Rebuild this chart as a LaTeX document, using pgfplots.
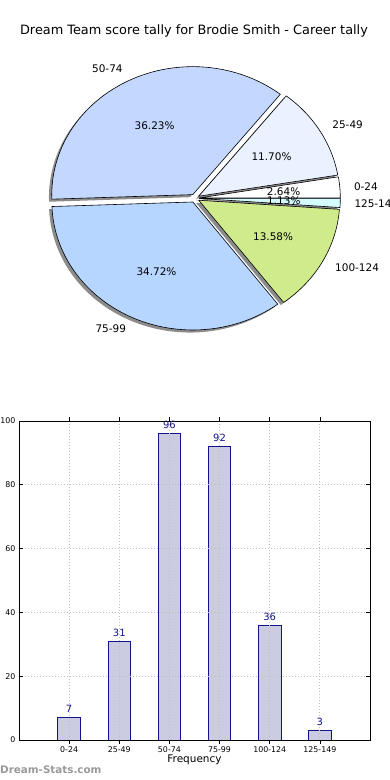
\documentclass[border=0pt]{standalone}
\usepackage{pgfplots}
\usepackage{pgfplotstable}
\pgfplotsset{compat=1.18}
\usepackage{fontspec}
\setmainfont{DejaVu Sans}

\definecolor{pie0}{HTML}{FFFFFF}
\definecolor{pie1}{HTML}{EAF1FF}
\definecolor{pie2}{HTML}{C4D8FF}
\definecolor{pie3}{HTML}{B6D5FF}
\definecolor{pie4}{HTML}{CFEB8B}
\definecolor{pie5}{HTML}{D4FBFF}
\definecolor{barfill}{HTML}{CBCBE2}
\definecolor{navy}{HTML}{12128C}
\definecolor{wm}{HTML}{999999}

\pgfplotstableread{
label count pct
0-24 7 2.64
25-49 31 11.70
50-74 96 36.23
75-99 92 34.72
100-124 36 13.58
125-149 3 1.13
}\scoretable

\begin{document}%
\begin{tikzpicture}
\useasboundingbox (0,0) rectangle (390bp,780bp);
% --- pie geometry computed from the counts ---
\def\total{0}
\pgfplotsforeachungrouped \k in {0,...,5}{%
  \pgfplotstablegetelem{\k}{count}\of\scoretable
  \pgfmathsetmacro\total{\total+\pgfplotsretval}%
}
\def\cum{0}
\def\explode{0.032}
\pgfplotsforeachungrouped \k in {0,...,5}{%
  \pgfplotstablegetelem{\k}{count}\of\scoretable
  \let\cnt\pgfplotsretval
  \pgfmathsetmacro\st{(\cum/\total)*360}%
  \pgfmathsetmacro\cum{\cum+\cnt}%
  \pgfmathsetmacro\en{(\cum/\total)*360}%
  \pgfmathsetmacro\md{(\st+\en)/2}%
  \expandafter\let\csname s\k\endcsname\st
  \expandafter\let\csname e\k\endcsname\en
  \pgfmathsetmacro\tmp{\explode*cos(\md)}\expandafter\let\csname ox\k\endcsname\tmp
  \pgfmathsetmacro\tmp{\explode*sin(\md)}\expandafter\let\csname oy\k\endcsname\tmp
  \pgfmathsetmacro\tmp{(1.1+\explode)*cos(\md)}\expandafter\let\csname lx\k\endcsname\tmp
  \pgfmathsetmacro\tmp{(1.1+\explode)*sin(\md)}\expandafter\let\csname ly\k\endcsname\tmp
  \pgfmathsetmacro\tmp{(0.6+\explode)*cos(\md)}\expandafter\let\csname px\k\endcsname\tmp
  \pgfmathsetmacro\tmp{(0.6+\explode)*sin(\md)}\expandafter\let\csname py\k\endcsname\tmp
  \pgfmathparse{cos(\md)}%
  \ifdim\pgfmathresult pt>0pt \expandafter\def\csname anc\k\endcsname{west}%
  \else \expandafter\def\csname anc\k\endcsname{east}\fi
  \pgfplotstablegetelem{\k}{label}\of\scoretable
  \expandafter\let\csname lab\k\endcsname\pgfplotsretval
  \pgfplotstablegetelem{\k}{pct}\of\scoretable
  \expandafter\let\csname p\k\endcsname\pgfplotsretval
}%
\node[font=\fontsize{12.9}{15}\selectfont, inner sep=0pt] at (194bp,749.5bp) {Dream Team score tally for Brodie Smith - Career tally};

% ---------------- pie ----------------
\begin{axis}[at={(194.8bp,581.7bp)}, anchor=center, scale only axis,
  width=282bp, height=256bp, xmin=-1, xmax=1, ymin=-1, ymax=1,
  hide axis, clip=false]
\pgfplotsinvokeforeach{0,...,5}{%
  \fill[black!45] (axis cs:{\csname ox#1\endcsname-0.02},{\csname oy#1\endcsname-0.02})
    -- plot[domain=\csname s#1\endcsname:\csname e#1\endcsname, samples=60, variable=\t]
       (axis cs:{\csname ox#1\endcsname-0.02+cos(\t)},{\csname oy#1\endcsname-0.02+sin(\t)}) -- cycle;
}
\pgfplotsinvokeforeach{0,...,5}{%
  \filldraw[fill=pie#1, draw=black, line width=0.6bp, line join=round]
    (axis cs:{\csname ox#1\endcsname},{\csname oy#1\endcsname})
    -- plot[domain=\csname s#1\endcsname:\csname e#1\endcsname, samples=60, variable=\t]
       (axis cs:{\csname ox#1\endcsname+cos(\t)},{\csname oy#1\endcsname+sin(\t)}) -- cycle;
}
\pgfplotsinvokeforeach{0,...,5}{%
  \node[anchor=\csname anc#1\endcsname, inner sep=0pt, font=\fontsize{10.5}{12}\selectfont]
    at (axis cs:{\csname lx#1\endcsname},{\csname ly#1\endcsname}) {\csname lab#1\endcsname};
  \node[inner sep=0pt, font=\fontsize{10.5}{12}\selectfont]
    at (axis cs:{\csname px#1\endcsname},{\csname py#1\endcsname}) {\csname p#1\endcsname\%};
}
\end{axis}

% ---------------- bars ----------------
\begin{axis}[at={(19bp,40bp)}, anchor=south west, scale only axis,
  width=351bp, height=319bp,
  xmin=-1, xmax=6, ymin=0, ymax=100,
  xtick={0,...,5}, xticklabels from table={\scoretable}{label},
  ytick={0,20,...,100},
  /pgf/number format/assume math mode=true,
  ticklabel style={font=\fontsize{7.9}{9}\selectfont},
  tick align=inside, major tick length=3.5bp,
  tick style={black, line width=0.6bp},
  axis line style={black, line width=0.9bp},
  grid=major,
  major grid style={black!25, line width=0.8bp, dash pattern=on 1bp off 2bp},
  axis on top,
  ybar, bar width=0.45,
  xlabel={Frequency},
  xlabel style={font=\fontsize{10.5}{12}\selectfont, at={(axis description cs:0.5,0)}, anchor=center, yshift=-19.5bp},
  nodes near coords,
  nodes near coords style={text=navy, font=\fontsize{10}{12}\selectfont, anchor=south, inner sep=0pt, yshift=4.4bp},
]
\addplot[fill=barfill, draw=navy, line width=0.8bp] table[x expr=\coordindex, y=count] {\scoretable};
\end{axis}

\node[anchor=west, inner sep=0pt, text=wm, font=\bfseries\fontsize{10.4}{12}\selectfont] at (0bp,10bp) {Dream-Stats.com};
\end{tikzpicture}%
\end{document}
